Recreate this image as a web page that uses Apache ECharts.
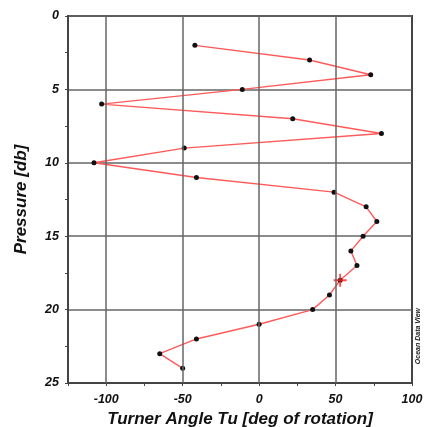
<!DOCTYPE html>
<html>
<head>
<meta charset="utf-8">
<script src="https://cdn.jsdelivr.net/npm/echarts@6/dist/echarts.min.js"></script>
<style>html,body{margin:0;padding:0;background:#fff}#c{width:425px;height:427px}</style>
</head>
<body>
<div id="c"></div>
<script>
// Data
const turnerAngle = [-42, 33, 73, -11, -103, 22, 80, -49, -108, -41, 49, 70, 77, 68, 60, 64, 53, 46, 35, 0, -41, -65, -50];
const pressure    = [2, 3, 4, 5, 6, 7, 8, 9, 10, 11, 12, 13, 14, 15, 16, 17, 18, 19, 20, 21, 22, 23, 24];
const markedIndex = 16; // highlighted sample (red cross)
const xGridValues = [-100, -50, 0, 50];
const xLabelValues = [-100, -50, 0, 50, 100];

const font = '"Liberation Sans", Arial, sans-serif';
const points = turnerAngle.map((v, i) => [v, pressure[i]]);

const chart = echarts.init(document.getElementById('c'), null, {renderer: 'canvas'});
chart.setOption({
  animation: false,
  backgroundColor: '#fff',
  grid: {left: 68, right: 13, top: 16, bottom: 44, outerBoundsMode: 'none', containLabel: false,
         show: true, borderColor: '#444', borderWidth: 2, backgroundColor: 'transparent'},
  xAxis: {
    type: 'value', min: -125, max: 100, interval: 25,
    axisLine: {show: true, onZero: false, lineStyle: {color: '#444', width: 2}},
    axisTick: {show: true, length: 3, lineStyle: {color: '#444', width: 1}},
    splitLine: {show: false},
    axisLabel: {
      margin: 10, color: '#111', fontFamily: font, fontWeight: 'bold', fontStyle: 'italic', fontSize: 12.5,
      formatter: v => xLabelValues.includes(v) ? String(v) : ''
    },
    name: 'Turner Angle Tu [deg of rotation]', nameLocation: 'middle', nameGap: 27,
    nameTextStyle: {color: '#111', fontFamily: font, fontWeight: 'bold', fontStyle: 'italic', fontSize: 17}
  },
  yAxis: {
    type: 'value', min: 0, max: 25, interval: 5, inverse: true,
    axisLine: {show: true, onZero: false, lineStyle: {color: '#444', width: 2}},
    axisTick: {show: true, length: 3, lineStyle: {color: '#444', width: 1}},
    minorTick: {show: true, splitNumber: 2, length: 3, lineStyle: {color: '#444', width: 1}},
    splitLine: {show: true, lineStyle: {color: '#666', width: 1.5}},
    axisLabel: {margin: 9, color: '#111', fontFamily: font, fontWeight: 'bold', fontStyle: 'italic', fontSize: 12.5},
    name: 'Pressure [db]', nameLocation: 'middle', nameGap: 38, nameRotate: 90,
    nameTextStyle: {color: '#111', fontFamily: font, fontWeight: 'bold', fontStyle: 'italic', fontSize: 17}
  },
  graphic: [{
    type: 'text', left: 415, top: 308, rotation: Math.PI / 2,
    style: {text: 'Ocean Data View', fontFamily: font, fontWeight: 'bold', fontStyle: 'italic', fontSize: 7, fill: '#222'}
  }],
  series: [
    {
      type: 'scatter', data: [], silent: true, z: 1,
      markLine: {
        silent: true, symbol: ['none', 'none'], label: {show: false},
        lineStyle: {color: '#666', width: 1.5, type: 'solid'},
        data: xGridValues.map(v => ({xAxis: v}))
      }
    },
    {
      type: 'line', data: points, z: 3,
      lineStyle: {color: '#ff5a5a', width: 1.4},
      symbol: 'circle', symbolSize: 5, showSymbol: true,
      itemStyle: {color: '#111'}
    },
    {
      type: 'scatter', z: 4,
      data: [[turnerAngle[markedIndex], pressure[markedIndex]]],
      symbol: 'path://M4.3,0H5.7V4.3H10V5.7H5.7V10H4.3V5.7H0V4.3H4.3Z', symbolSize: 13,
      itemStyle: {color: '#ff2020'}
    }
  ]
});
</script>
</body>
</html>
